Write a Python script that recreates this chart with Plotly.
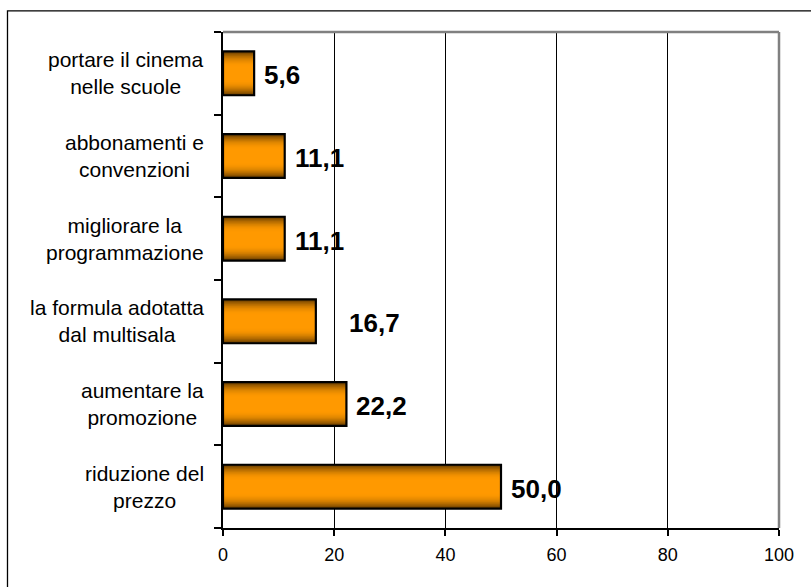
import plotly.graph_objects as go

# Survey answers (percent), listed bottom-to-top as drawn on the category axis
categories = [
    "riduzione del<br>prezzo",
    "aumentare la<br>promozione",
    "la formula adotatta<br>dal multisala",
    "migliorare la<br>programmazione",
    "abbonamenti e<br>convenzioni",
    "portare il cinema<br>nelle scuole",
]
values = [50.0, 22.2, 16.7, 11.1, 11.1, 5.6]
value_labels = ["50,0", "22,2", "16,7", "11,1", "11,1", "5,6"]
x_ticks = [0, 20, 40, 60, 80, 100]

FONT = "Liberation Sans, Arial, sans-serif"
BAR_W = 0.53
EDGE = (105, 62, 0)
MID = (255, 153, 0)

fig = go.Figure()

# Cylinder-like shading: stacked overlaid bars, darker at the outer edges
n_layers = 14
for i in range(n_layers):
    t = i / (n_layers - 1)
    s = 1 - (1 - t) ** 2
    col = tuple(int(round(EDGE[k] + (MID[k] - EDGE[k]) * s)) for k in range(3))
    w = BAR_W * (1 - 0.68 * t)
    fig.add_trace(go.Bar(
        y=categories, x=values, orientation="h", width=w,
        marker=dict(color="rgb(%d,%d,%d)" % col, line=dict(width=0)),
        hoverinfo="skip", showlegend=False,
    ))

# Black outline on top of the shaded fill
fig.add_trace(go.Bar(
    y=categories, x=values, orientation="h", width=BAR_W,
    marker=dict(color="rgba(0,0,0,0)", line=dict(color="black", width=2.2)),
    showlegend=False,
))

# Value labels to the right of each bar
for cat, v, lab in zip(categories, values, value_labels):
    fig.add_annotation(
        x=v, y=cat, text=lab, showarrow=False, xanchor="left", yanchor="middle",
        xshift=31 if lab == "16,7" else 8, yshift=-2,
        font=dict(family=FONT, size=26, color="black", weight="bold"),
    )

# Category names, centre-aligned in two lines left of the axis
for cat in categories:
    fig.add_annotation(
        x=0, xref="paper", y=cat, text=cat, showarrow=False,
        xanchor="right", yanchor="middle", align="center", xshift=-17,
        font=dict(family=FONT, size=21, color="black"),
    )

# Grey plot border on top and right, and the outer chart frame
fig.add_shape(type="line", xref="paper", yref="paper", x0=0, x1=1, y0=1, y1=1,
              line=dict(color="#808080", width=2.5))
fig.add_shape(type="line", xref="paper", yref="paper", x0=1, x1=1, y0=0, y1=1,
              line=dict(color="#808080", width=2.5))
fig.add_shape(type="rect", xref="paper", yref="paper",
              x0=-0.3876, x1=1.2, y0=-0.25, y1=1.0424,
              line=dict(color="black", width=1.3), layer="above")

fig.update_layout(
    width=811, height=587,
    margin=dict(l=223, r=32, t=32, b=59),
    barmode="overlay",
    plot_bgcolor="white", paper_bgcolor="white",
    font=dict(family=FONT, color="black"),
    xaxis=dict(
        range=[0, 100], tickvals=x_ticks, ticktext=[str(v) for v in x_ticks],
        showgrid=True, gridcolor="black", gridwidth=1,
        showline=True, linecolor="black", linewidth=1.5,
        ticks="outside", ticklen=6, tickcolor="black", tickwidth=1.5,
        ticklabelstandoff=4,
        tickfont=dict(size=18), zeroline=False, fixedrange=True,
    ),
    yaxis=dict(
        type="category", categoryorder="array", categoryarray=categories,
        showgrid=False, showline=True, linecolor="black", linewidth=1.5,
        ticks="outside", ticklen=7, tickcolor="black", tickwidth=1.5,
        tickson="boundaries", showticklabels=False, fixedrange=True,
    ),
)

fig.write_html("out.html")
